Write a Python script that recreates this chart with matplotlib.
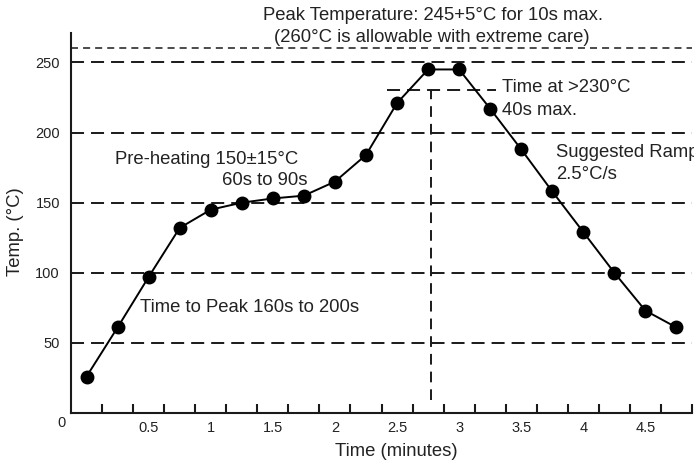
import matplotlib
matplotlib.use("Agg")
import matplotlib.pyplot as plt
import numpy as np

plt.rcParams['font.family'] = ['Liberation Sans', 'DejaVu Sans']

# Data
time_min = [0.0, 0.25, 0.5, 0.75, 1.0, 1.25, 1.5, 1.75, 2.0, 2.25,
            2.5, 2.75, 3.0, 3.25, 3.5, 3.75, 4.0, 4.25, 4.5, 4.75]
temp_c = [26, 61, 97, 132, 145, 150, 153, 155, 165, 184,
          221, 245, 245, 217, 188, 158, 129, 100, 73, 61]
ref_temps = [50, 100, 150, 200, 250]
allow_temp = 260
tal_temp = 230
x_tick_labels = ["0.5", "1", "1.5", "2", "2.5", "3", "3.5", "4", "4.5"]
x_tick_vals = [0.5, 1.0, 1.5, 2.0, 2.5, 3.0, 3.5, 4.0, 4.5]

W, H = 694, 468
fig = plt.figure(figsize=(W / 100, H / 100), dpi=100)
ax = fig.add_axes([71 / W, 1 - 413 / H, (692 - 71) / W, (413 - 33) / H])

x0, x1 = -0.125, 4.863
ax.set_xlim(x0, x1)
ax.set_ylim(0, 271)

lc = '#1a1a1a'
tc = '#222222'
for t in ref_temps:
    ax.axhline(t, color=lc, lw=1.4, dashes=(6.7, 3.6), zorder=1)
ax.axhline(allow_temp, color=lc, lw=1.1, dashes=(4.6, 3.3), zorder=1)
ax.plot([2.42, 3.30], [tal_temp, tal_temp], color=lc, lw=1.4, dashes=(6.7, 3.6), zorder=1)
ax.plot([2.77, 2.77], [9, tal_temp], color=lc, lw=1.4, dashes=(5.5, 3.6), zorder=1)

ax.plot(time_min, temp_c, color='black', lw=1.4, marker='o', markersize=9,
        markerfacecolor='black', markeredgecolor='black', zorder=3)

for s in ['top', 'right']:
    ax.spines[s].set_visible(False)
for s in ['left', 'bottom']:
    ax.spines[s].set_linewidth(1.5)
    ax.spines[s].set_color(lc)

ax.set_yticks(ref_temps)
ax.set_yticklabels([str(v) for v in ref_temps], fontsize=10.5, color=tc)
ax.tick_params(axis='y', length=0, pad=8)

ax.set_xticks(x_tick_vals)
ax.set_xticklabels(x_tick_labels, fontsize=10.5, color=tc)
ax.tick_params(axis='x', which='major', length=0, pad=6)
ax.set_xticks(np.arange(0.125, 4.9, 0.25), minor=True)
ax.tick_params(axis='x', which='minor', direction='in', length=6.5, width=1.5, color=lc)

ax.annotate("0", xy=(0, 0), xycoords='axes fraction', xytext=(-6.5, -7),
            textcoords='offset points', ha='center', va='center', fontsize=10.5, color=tc)

ax.set_xlabel("Time (minutes)", fontsize=13.3, color=tc)
ax.set_ylabel("Temp. (°C)", fontsize=13.3, color=tc)
ax.xaxis.set_label_coords((396 - 71) / (692 - 71), -(452 - 413) / (413 - 33))
ax.xaxis.label.set_va('center')
ax.yaxis.set_label_coords(-(71 - 16) / (692 - 71), (413 - 232) / (413 - 33))
ax.yaxis.label.set_va('center')

fs = 13.3
fig.text(433 / W, 1 - 16 / H, "Peak Temperature: 245+5°C for 10s max.", ha='center', va='center', fontsize=fs, color=tc)
fig.text(432 / W, 1 - 37 / H, "(260°C is allowable with extreme care)", ha='center', va='center', fontsize=fs, color=tc)
ax.text(3.347, 232, "Time at >230°C", ha='left', va='center', fontsize=fs, color=tc)
ax.text(3.347, 216, "40s max.", ha='left', va='center', fontsize=fs, color=tc)
ax.text(3.78, 186, "Suggested Ramp", ha='left', va='center', fontsize=fs, color=tc, clip_on=False)
ax.text(3.78, 170, "2.5°C/s", ha='left', va='center', fontsize=fs, color=tc)
ax.text(0.233, 180.7, "Pre-heating 150±15°C", ha='left', va='center', fontsize=fs, color=tc)
ax.text(1.09, 165.7, "60s to 90s", ha='left', va='center', fontsize=fs, color=tc)
ax.text(0.433, 75, "Time to Peak 160s to 200s", ha='left', va='center', fontsize=fs, color=tc)

fig.savefig("out.png", dpi=100)
